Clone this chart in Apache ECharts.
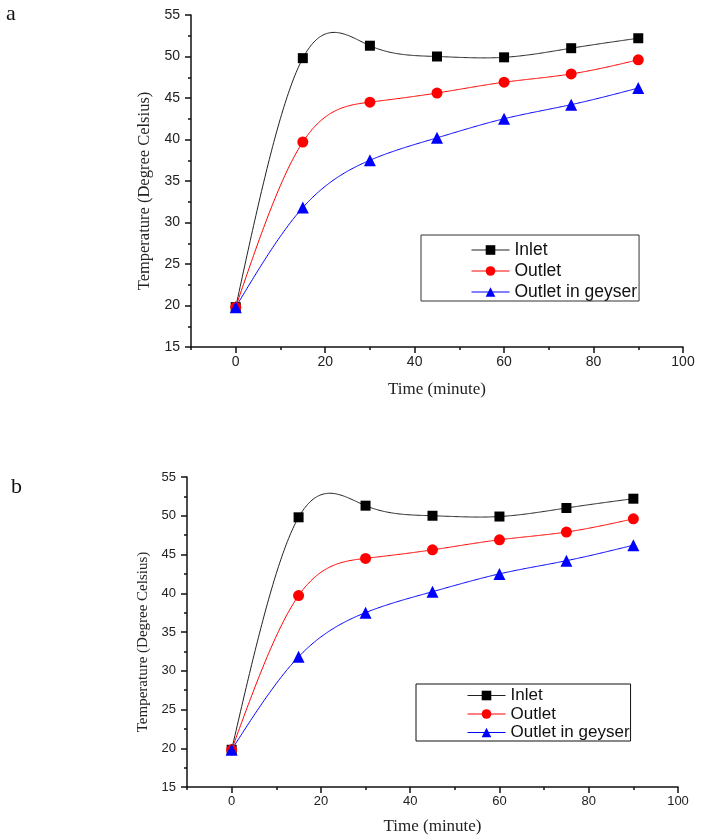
<!DOCTYPE html>
<html>
<head>
<meta charset="utf-8">
<script src="https://cdn.jsdelivr.net/npm/echarts@6/dist/echarts.min.js"></script>
<style>
  html, body { margin: 0; padding: 0; background: #fff; }
  #chart { width: 710px; height: 840px; }
</style>
</head>
<body>
<div id="chart"></div>
<script>
// data (same readings in panel a and b)
var timeMin = [0, 15, 30, 45, 60, 75, 90];
var inletTemp = [19.8, 49.8, 51.3, 50.0, 49.9, 51.0, 52.2];
var outletTemp = [19.8, 39.7, 44.5, 45.6, 46.9, 47.9, 49.6];
var geyserTemp = [19.8, 31.8, 37.5, 40.2, 42.5, 44.2, 46.2];
var seriesNames = ['Inlet', 'Outlet', 'Outlet in geyser'];
var xTickValues = [0, 20, 40, 60, 80, 100];
var xMinorValues = [-10, 10, 30, 50, 70, 90];

function pairs(ys) {
  return timeMin.map(function (t, i) { return [t, ys[i]]; });
}

// natural cubic spline, like Origin's "Spline" connect style
function naturalSpline(xs, ys) {
  var n = xs.length, h = [], m = new Array(n).fill(0);
  for (var i = 0; i < n - 1; i++) h.push(xs[i + 1] - xs[i]);
  var a = [], b = [], c = [], d = [];
  for (var i = 1; i < n - 1; i++) {
    a.push(h[i - 1]); b.push(2 * (h[i - 1] + h[i])); c.push(h[i]);
    d.push(6 * ((ys[i + 1] - ys[i]) / h[i] - (ys[i] - ys[i - 1]) / h[i - 1]));
  }
  var k = d.length;
  for (var i = 1; i < k; i++) {
    var w = a[i] / b[i - 1];
    b[i] -= w * c[i - 1];
    d[i] -= w * d[i - 1];
  }
  for (var i = k - 1; i >= 0; i--) {
    m[i + 1] = (d[i] - (i < k - 1 ? c[i] * m[i + 2] : 0)) / b[i];
  }
  return function (x) {
    var j = 0;
    while (j < n - 2 && x > xs[j + 1]) j++;
    var hj = h[j], t1 = xs[j + 1] - x, t0 = x - xs[j];
    return m[j] * t1 * t1 * t1 / (6 * hj) + m[j + 1] * t0 * t0 * t0 / (6 * hj) +
      (ys[j] / hj - m[j] * hj / 6) * t1 + (ys[j + 1] / hj - m[j + 1] * hj / 6) * t0;
  };
}

var chart = echarts.init(document.getElementById('chart'));

var sans = 'Liberation Sans';
var serif = 'Liberation Serif';

function mainX(gridIndex, nameGap, labelSize) {
  return {
    gridIndex: gridIndex, type: 'value', position: 'bottom',
    min: -10, max: 100,
    name: 'Time (minute)', nameLocation: 'middle', nameGap: nameGap,
    nameTextStyle: { fontFamily: serif, fontSize: 17, color: '#222' },
    axisLine: { onZero: false, lineStyle: { color: '#111', width: 1.5 } },
    axisTick: { customValues: xTickValues, length: 6, lineStyle: { color: '#111', width: 1.5 } },
    axisLabel: { customValues: xTickValues, margin: 8, fontFamily: sans, fontSize: labelSize, color: '#222' },
    splitLine: { show: false }
  };
}
function minorX(gridIndex) {
  return {
    gridIndex: gridIndex, type: 'value', position: 'bottom',
    min: -10, max: 100,
    axisLine: { show: false, onZero: false },
    axisTick: { customValues: xMinorValues, length: 3, lineStyle: { color: '#111', width: 1.5 } },
    axisLabel: { show: false },
    splitLine: { show: false }
  };
}
function mainY(gridIndex, fontSize, labelSize) {
  return {
    gridIndex: gridIndex, type: 'value',
    min: 15, max: 55, interval: 5,
    name: 'Temperature (Degree Celsius)', nameLocation: 'middle', nameGap: 36,
    nameTextStyle: { fontFamily: serif, fontSize: fontSize, color: '#222', padding: [0, 20, 0, 0] },
    axisLine: { onZero: false, lineStyle: { color: '#111', width: 1.5 } },
    axisTick: { length: 6, lineStyle: { color: '#111', width: 1.5 } },
    minorTick: { show: true, splitNumber: 2, length: 3, lineStyle: { color: '#111', width: 1.5 } },
    axisLabel: { margin: 11, fontFamily: sans, fontSize: labelSize, color: '#222' },
    splitLine: { show: false }
  };
}

var curves = [
  { name: seriesNames[0], ys: inletTemp, symbol: 'rect', size: 10, color: '#000', line: '#222' },
  { name: seriesNames[1], ys: outletTemp, symbol: 'circle', size: 11, color: '#ff0000', line: '#ff0000' },
  { name: seriesNames[2], ys: geyserTemp, symbol: 'triangle', size: 12, color: '#0000ff', line: '#0000ff' }
];

function makeSeries(xIdx, yIdx) {
  var out = [];
  curves.forEach(function (cv) {
    // markers (line itself hidden; drawn by the spline series below)
    out.push({
      type: 'line', name: cv.name, data: pairs(cv.ys),
      xAxisIndex: xIdx, yAxisIndex: yIdx, z: 4,
      symbol: cv.symbol, symbolSize: cv.size,
      itemStyle: { color: cv.color },
      lineStyle: { color: cv.line, width: 1, opacity: 0 }
    });
  });
  curves.forEach(function (cv) {
    var f = naturalSpline(timeMin, cv.ys);
    out.push({
      type: 'custom', coordinateSystem: 'cartesian2d',
      xAxisIndex: xIdx, yAxisIndex: yIdx, z: 3, silent: true,
      data: pairs(cv.ys),
      renderItem: function (params, api) {
        if (params.dataIndex !== 0) return null;
        var pts = [];
        var x0 = timeMin[0], x1 = timeMin[timeMin.length - 1];
        for (var s = 0; s <= 360; s++) {
          var x = x0 + (x1 - x0) * s / 360;
          pts.push(api.coord([x, f(x)]));
        }
        return {
          type: 'polyline', shape: { points: pts },
          style: { stroke: cv.line, lineWidth: 1, fill: null }
        };
      }
    });
  });
  return out;
}

var legendLine = { opacity: 1, width: 1 };

var option = {
  animation: false,
  backgroundColor: '#fff',
  graphic: [
    { type: 'text', left: 6, top: 3, style: { text: 'a', fontFamily: serif, fontSize: 22, fill: '#111' } },
    { type: 'text', left: 11, top: 476, style: { text: 'b', fontFamily: serif, fontSize: 22, fill: '#111' } }
  ],
  grid: [
    { left: 191, top: 15, width: 492, height: 332 },
    { left: 187, top: 477, width: 491, height: 310 }
  ],
  xAxis: [mainX(0, 34, 14), minorX(0), mainX(1, 31, 13), minorX(1)],
  yAxis: [mainY(0, 16.5, 14), mainY(1, 15, 13)],
  legend: [
    {
      data: seriesNames, orient: 'vertical', left: 421, top: 235,
      padding: [6, 2, 0, 50], itemGap: 3, itemWidth: 38, itemHeight: 12,
      lineStyle: legendLine,
      borderColor: '#333', borderWidth: 1, borderRadius: 0,
      textStyle: { fontFamily: sans, fontSize: 17.5, color: '#111' }
    },
    {
      data: seriesNames, orient: 'vertical', left: 416, top: 684,
      padding: [3, 1, 0, 51], itemGap: 1.5, itemWidth: 38, itemHeight: 12,
      lineStyle: legendLine,
      borderColor: '#111', borderWidth: 1, borderRadius: 0,
      textStyle: { fontFamily: sans, fontSize: 17, color: '#111' }
    }
  ],
  series: makeSeries(0, 0).concat(makeSeries(2, 1))
};

chart.setOption(option);
</script>
</body>
</html>
